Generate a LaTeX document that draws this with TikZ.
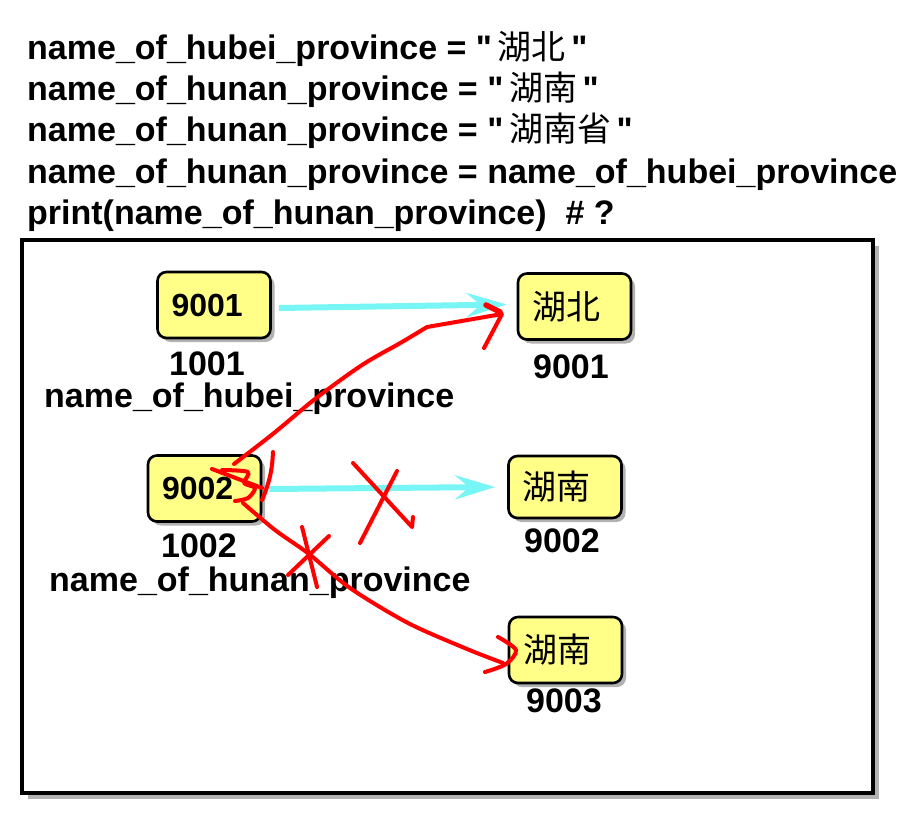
\documentclass[tikz,border=0pt]{standalone}
\usepackage{fontspec}
\setmainfont{Liberation Sans}
\newfontfamily\cjk{Noto Sans CJK SC}
\usetikzlibrary{arrows.meta,shadows,calc}
\definecolor{boxyellow}{RGB}{255,255,136}
\definecolor{arrowcyan}{RGB}{120,245,245}
\newcommand{\hz}[1]{{\cjk\mdseries\,#1\,}}
\tikzset{
  memo/.style={draw=black, line width=2.6pt, rounded corners=9pt, fill=boxyellow,
    drop shadow={shadow xshift=4pt, shadow yshift=-4pt, opacity=0.3, fill=black},
    inner xsep=14pt, inner ysep=0pt, align=left, text width=85pt, minimum height=66pt},
  numtxt/.style={font=\bfseries\fontsize{32}{38}\selectfont},
  hantxt/.style={font=\cjk\fontsize{34}{40}\selectfont},
  lbl/.style={font=\bfseries\fontsize{34}{40}\selectfont, inner sep=0pt},
  codeline/.style={font=\bfseries\fontsize{34}{41}\selectfont, anchor=base west, inner sep=0pt},
  ptr/.style={draw=arrowcyan, line width=6pt, -{Stealth[length=40pt, width=24pt, inset=14pt]}},
  redpen/.style={draw=red, line width=4pt, line cap=round, line join=round,
    drop shadow={shadow xshift=2pt, shadow yshift=-2pt, opacity=0.15, draw=black, fill=none}}
}
\begin{document}
\begin{tikzpicture}[x=1pt, y=-1pt]
\useasboundingbox (0,0) rectangle (915,821);
\fill[white] (0,0) rectangle (915,821);

% code lines
\node[codeline] (l1) at (27,60) {name\_of\_hubei\_province = \textquotedbl\hz{湖北}\textquotedbl};
\node[codeline] (l2) at (27,101) {name\_of\_hunan\_province = \textquotedbl\hz{湖南}\textquotedbl};
\node[codeline] (l3) at (27,142) {name\_of\_hunan\_province = \textquotedbl\hz{湖南省}\textquotedbl};
\node[codeline] (l4) at (27,183) {name\_of\_hunan\_province = name\_of\_hubei\_province};
\node[codeline] (l5) at (27,224) {print(name\_of\_hunan\_province)~~\# ?};

% frame
\draw[line width=4pt, fill=white,
  drop shadow={shadow xshift=6pt, shadow yshift=-6pt, opacity=0.3, fill=black}]
  (22,240) rectangle (873,793);

% boxes
\node[memo, numtxt] (A) at (214,305) {9001};
\node[memo, hantxt] (B) at (574.5,306.5) {湖北};
\node[memo, numtxt] (C) at (204.5,488.5) {9002};
\node[memo, hantxt, minimum height=62pt] (D) at (565,487) {湖南};
\node[memo, hantxt] (E) at (565.5,650) {湖南};

% labels
\node[lbl, anchor=base] (a1) at (207,375) {1001};
\node[lbl, anchor=base west] (a2) at (44,407) {name\_of\_hubei\_province};
\node[lbl, anchor=base] (b1) at (571,378) {9001};
\node[lbl, anchor=base] (c1) at (199,557) {1002};
\node[lbl, anchor=base west] (c2) at (49,591) {name\_of\_hunan\_province};
\node[lbl, anchor=base] (d1) at (562,552) {9002};
\node[lbl, anchor=base] (e1) at (564,712) {9003};

% cyan pointers
\draw[ptr] ($(A.east)+(7,3)$) -- ($(B.west)+(-10,-2)$);
\draw[ptr] ($(C.east)+(7,0.5)$) -- ($(D.west)+(-12,0)$);

% red hand-drawn strokes
\draw[redpen] plot[smooth] coordinates {(234,464) (274,433) (315,399) (362,365) (402,342) (427,327)} -- (502,314) -- (484,348);
\draw[redpen, line width=5.5pt] (486,305) -- (500,312);
\draw[redpen] (212,469) -- (262,488);
\draw[redpen] plot[smooth] coordinates {(222,470) (248,472) (244,483) (255,488) (248,498) (235,501)};
\draw[redpen] (273,452) to[bend left=10] (262,500);
\draw[redpen] plot[smooth] coordinates {(243,503) (275,530) (309,554) (350,588) (408,623) (467,649) (503,663)};
\draw[redpen] plot[smooth] coordinates {(498,637) (516,650) (506,664) (485,672)};
\draw[redpen] (353,463) -- (412,527) -- (413,517);
\draw[redpen] (397,471) -- (360,543);
\draw[redpen] (302,527) -- (317,587);
\draw[redpen] (329,536) -- (288,575);
\end{tikzpicture}
\end{document}
